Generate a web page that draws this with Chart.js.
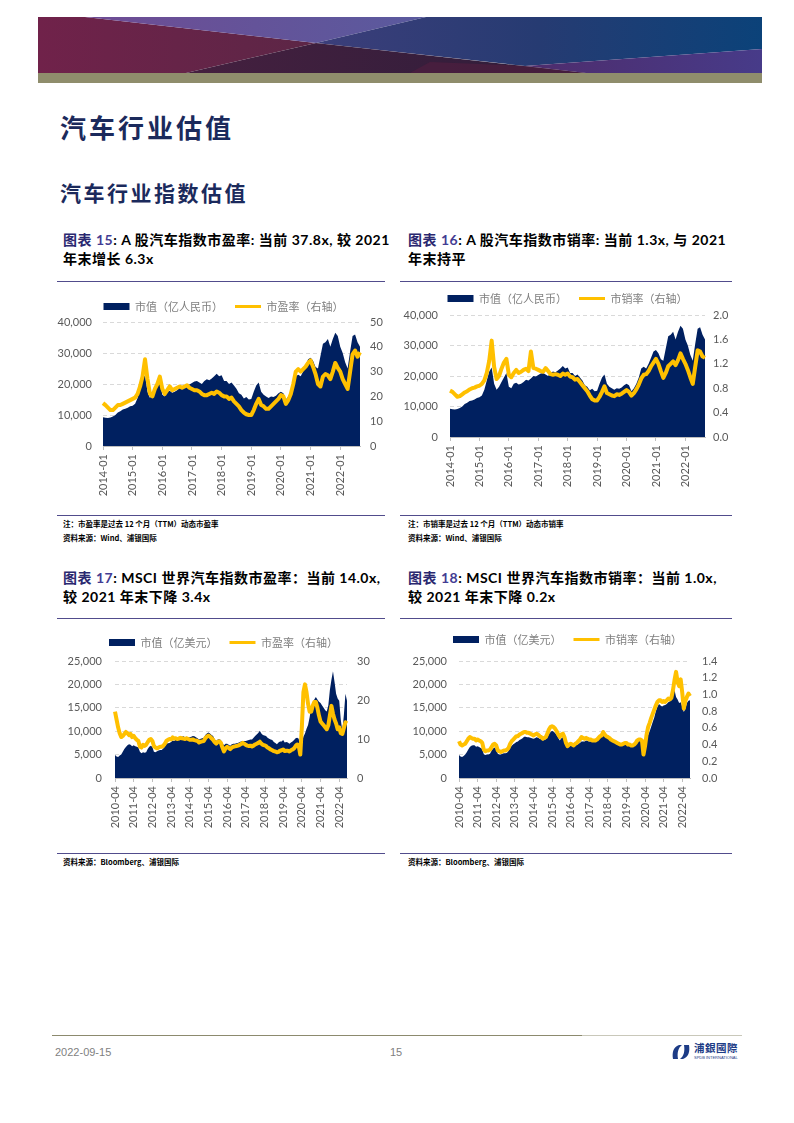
<!DOCTYPE html>
<html lang="zh-CN">
<head>
<meta charset="utf-8">
<title>汽车行业估值</title>
<script src="https://cdn.jsdelivr.net/npm/chart.js@4.4.1/dist/chart.umd.min.js"></script>
<style>
  body { margin: 0; background: #fff; }
  #page { position: relative; width: 794px; height: 1123px; overflow: hidden; font-family: Lato, "Noto Sans CJK SC", sans-serif; }
  .abs { position: absolute; }
  .h1 { left: 60px; top: 110px; font-family: "Noto Sans CJK SC"; font-size: 26px; line-height: 34px; font-weight: 700; letter-spacing: 3px; color: #1B2A5C; }
  .h2 { left: 60px; top: 178px; font-family: "Noto Sans CJK SC"; font-size: 21px; line-height: 28px; font-weight: 700; letter-spacing: 2.5px; color: #1B2A5C; }
  .cap { font-size: 14px; line-height: 19px; font-weight: 700; letter-spacing: 0.5px; color: #000; white-space: nowrap; }
  .cap .fig { color: #2A2870; }
  .cap .num { color: #433C93; }
  .rule { height: 1px; background: #514C8C; }
  .note { font-family: "Noto Sans CJK SC"; font-size: 7.5px; line-height: 10px; font-weight: 700; color: #000; white-space: nowrap; }
  .foot { font-family: "Liberation Sans"; font-size: 11px; color: #7F7F7F; }
  canvas { position: absolute; }
</style>
</head>
<body>
<div id="page">

  <!-- banner -->
  <svg class="abs" style="left:0;top:0" width="794" height="90">
    <defs>
      <linearGradient id="gMaroon" gradientUnits="userSpaceOnUse" x1="38" y1="0" x2="316" y2="0">
        <stop offset="0" stop-color="#70224A"/><stop offset="1" stop-color="#5C2646"/>
      </linearGradient>
      <linearGradient id="gLav" gradientUnits="userSpaceOnUse" x1="85" y1="0" x2="426" y2="0">
        <stop offset="0" stop-color="#6E4C94"/><stop offset="1" stop-color="#5A5A9E"/>
      </linearGradient>
      <linearGradient id="gBlue" gradientUnits="userSpaceOnUse" x1="316" y1="0" x2="762" y2="0">
        <stop offset="0" stop-color="#3C3E7A"/><stop offset="0.5" stop-color="#263B72"/><stop offset="1" stop-color="#0B4279"/>
      </linearGradient>
      <linearGradient id="gDark" gradientUnits="userSpaceOnUse" x1="186" y1="0" x2="586" y2="0">
        <stop offset="0" stop-color="#45203F"/><stop offset="1" stop-color="#2E1D3A"/>
      </linearGradient>
      <linearGradient id="gPurple" gradientUnits="userSpaceOnUse" x1="525" y1="0" x2="762" y2="0">
        <stop offset="0" stop-color="#4E2C6C"/><stop offset="1" stop-color="#473B89"/>
      </linearGradient>
    </defs>
    <polygon points="38,17 85,17 316,43 186,73 38,73" fill="url(#gMaroon)"/>
    <polygon points="85,17 426,17 316,43" fill="url(#gLav)"/>
    <polygon points="426,17 762,17 762,49 525,66 316,43" fill="url(#gBlue)"/>
    <polygon points="316,43 586,73 186,73" fill="url(#gDark)"/>
    <polygon points="525,66 762,49 762,73 586,73" fill="url(#gPurple)"/>
    <polygon points="430,62 525,66 586,73 410,73" fill="#4F1E3E" opacity="0.7"/>
    <rect x="38" y="73" width="724" height="10" fill="#8F8D6C"/>
  </svg>

  <div class="abs h1">汽车行业估值</div>
  <div class="abs h2">汽车行业指数估值</div>

  <!-- captions -->
  <div class="abs cap" style="left:63px;top:230px"><span class="fig">图表</span> <span class="num">15</span>: A 股汽车指数市盈率: 当前 37.8x, 较 2021<br>年末增长 6.3x</div>
  <div class="abs cap" style="left:408px;top:230px"><span class="fig">图表</span> <span class="num">16</span>: A 股汽车指数市销率: 当前 1.3x, 与 2021<br>年末持平</div>
  <div class="abs cap" style="left:63px;top:568px"><span class="fig">图表</span> <span class="num">17</span>: MSCI 世界汽车指数市盈率：当前 14.0x,<br>较 2021 年末下降 3.4x</div>
  <div class="abs cap" style="left:408px;top:568px"><span class="fig">图表</span> <span class="num">18</span>: MSCI 世界汽车指数市销率：当前 1.0x,<br>较 2021 年末下降 0.2x</div>

  <div class="abs rule" style="left:57px;top:281px;width:328px"></div>
  <div class="abs rule" style="left:400px;top:281px;width:332px"></div>
  <div class="abs rule" style="left:57px;top:618px;width:328px"></div>
  <div class="abs rule" style="left:400px;top:618px;width:332px"></div>

  <canvas id="c15" width="333" height="217" style="left:57px;top:289px"></canvas>
  <canvas id="c16" width="335" height="216" style="left:400px;top:281px"></canvas>
  <canvas id="c17" width="333" height="213" style="left:57px;top:625px"></canvas>
  <canvas id="c18" width="335" height="216" style="left:400px;top:622px"></canvas>

  <!-- notes -->
  <div class="abs rule" style="left:57px;top:515px;width:328px"></div>
  <div class="abs rule" style="left:400px;top:515px;width:332px"></div>
  <div class="abs note" style="left:63px;top:519px">注：市盈率是过去 12 个月（TTM）动态市盈率</div>
  <div class="abs note" style="left:63px;top:533px">资料来源：Wind、浦银国际</div>
  <div class="abs note" style="left:408px;top:519px">注：市销率是过去 12 个月（TTM）动态市销率</div>
  <div class="abs note" style="left:408px;top:533px">资料来源：Wind、浦银国际</div>

  <div class="abs rule" style="left:57px;top:853px;width:328px"></div>
  <div class="abs rule" style="left:400px;top:853px;width:332px"></div>
  <div class="abs note" style="left:63px;top:857px">资料来源：Bloomberg、浦银国际</div>
  <div class="abs note" style="left:408px;top:857px">资料来源：Bloomberg、浦银国际</div>

  <!-- footer -->
  <div class="abs" style="left:52px;top:1035px;width:530px;height:1px;background:#8C8A6E"></div>
  <div class="abs" style="left:582px;top:1035px;width:160px;height:1px;background:#C9C8BA"></div>
  <div class="abs foot" style="left:55px;top:1046px">2022-09-15</div>
  <div class="abs foot" style="left:390px;top:1046px">15</div>
  <svg class="abs" style="left:671px;top:1043px" width="20" height="18" viewBox="0 0 20 18">
    <path d="M2 16 C1 10 2 4 8 2 L11 2 C7 5 6 10 7 16 Z" fill="#1D3C86"/>
    <path d="M18 2 C19 8 18 14 12 16 L9 16 C13 13 14 8 13 2 Z" fill="#1D3C86"/>
  </svg>
  <div class="abs" style="left:694px;top:1042px;font-family:'Noto Sans CJK TC';font-size:10.5px;line-height:12px;font-weight:700;color:#1D3C86;letter-spacing:0.5px">浦銀國際</div>
  <div class="abs" style="left:694px;top:1055px;font-family:'Liberation Sans';font-size:4px;line-height:5px;color:#1D3C86">SPDB INTERNATIONAL</div>
</div>

<script>
// month categories for the x axes
function monthRange(y0, m0, y1, m1) {
    var out = [];
    for (var y = y0; y <= y1; y++) {
        for (var m = (y === y0 ? m0 : 1); m <= (y === y1 ? m1 : 12); m++) {
            out.push(y + '-' + (m < 10 ? '0' + m : m));
        }
    }
    return out;
}

var monthsA = monthRange(2014, 1, 2022, 9);
var monthsW = monthRange(2010, 4, 2022, 9);

// labels printed under the x axes
var ticksA = ['2014-01', '2015-01', '2016-01', '2017-01', '2018-01', '2019-01', '2020-01', '2021-01', '2022-01'];
var ticksW = ['2010-04', '2011-04', '2012-04', '2013-04', '2014-04', '2015-04', '2016-04',
              '2017-04', '2018-04', '2019-04', '2020-04', '2021-04', '2022-04'];

// A股汽车指数 市值（亿人民币）, monthly 2014-01 .. 2022-09
var capA = [
    9300, 9100, 9000, 9200, 9500, 10000, 10800, 11200, 11800, 12000, 12300, 12800,
    13000, 13600, 15500, 18500, 21500, 22800, 17500, 15500, 16500, 18000, 19500, 21000,
    16500, 16000, 17500, 17800, 17200, 17500, 18000, 18800, 18500, 19200, 20000, 19800,
    20300, 20800, 21000, 20500, 20000, 21000, 21500, 21200, 21800, 22500, 23300, 22500,
    22800, 21000, 21000, 20000, 20500, 19500, 18500, 17000, 16500, 15300, 15800, 15000,
    15200, 17500, 19500, 20500, 17500, 16500, 16000, 15500, 16000, 15800, 16200, 17000,
    17500, 17000, 15000, 16000, 17500, 19500, 22500, 23000, 22500, 24000, 26000, 28000,
    28500, 27500, 25500, 25000, 29000, 33000, 33500, 34500, 32000, 34500, 36500, 35500,
    32000, 30000, 27000, 25000, 30500, 35500, 36000, 33500, 32000
];

// A股汽车指数 市盈率
var peA = [
    17.3, 16.5, 15.5, 14.5, 14.5, 15.5, 16.5, 16.5, 17, 17.5, 18, 18.5,
    19, 19.5, 21, 24, 28, 35, 27, 21, 20, 23, 25, 28,
    23, 21, 22.5, 24, 22.5, 23, 23.5, 24, 23.5, 24, 24.5, 23.5,
    23, 22.5, 22.5, 22, 21, 20.5, 20.5, 21, 21.5, 21, 22, 21.5,
    20.5, 20, 20, 19, 19.5, 18, 17, 16, 14.5, 13.5, 12.8, 12.5,
    12.5, 14.5, 17, 19, 16.5, 16, 15, 15, 16, 17, 18, 19,
    20.5, 20, 17, 18.5, 21, 25, 30, 31, 30, 31, 32, 33.5,
    34.5, 32, 29, 25, 24, 28, 29, 28.5, 27, 30, 33.5, 31.5,
    30, 27, 25, 23, 30, 37, 38.5, 36, 37.8
];

// A股汽车指数 市销率
var psA = [
    0.76, 0.74, 0.70, 0.66, 0.67, 0.70, 0.73, 0.75, 0.78, 0.80, 0.81, 0.83,
    0.84, 0.87, 0.93, 1.05, 1.25, 1.58, 1.15, 0.95, 1.00, 1.12, 1.22, 1.28,
    1.02, 0.98, 1.05, 1.10, 1.05, 1.07, 1.10, 1.12, 1.08, 1.40, 1.13, 1.12,
    1.10, 1.08, 1.07, 1.13, 1.08, 1.03, 1.02, 1.03, 1.02, 1.00, 1.04, 1.02,
    1.04, 0.99, 0.98, 0.94, 0.95, 0.90, 0.85, 0.80, 0.75, 0.68, 0.62, 0.60,
    0.60, 0.66, 0.74, 0.83, 0.72, 0.70, 0.68, 0.67, 0.70, 0.69, 0.71, 0.74,
    0.77, 0.74, 0.68, 0.72, 0.78, 0.86, 0.96, 1.02, 1.03, 1.08, 1.16, 1.22,
    1.28, 1.20, 1.08, 0.97, 1.05, 1.16, 1.20, 1.24, 1.18, 1.26, 1.37, 1.28,
    1.20, 1.10, 0.98, 0.87, 1.15, 1.42, 1.40, 1.32, 1.30
];

// MSCI世界汽车指数 市值（亿美元）, chart 17, monthly 2010-04 .. 2022-09
var capW1 = [
    4900, 4600, 4500, 4800, 5000, 5600, 6200, 6600, 7000,
    7200, 7100, 6800, 7000, 6800, 6700, 6500, 5600, 5300, 5500, 5400, 5500,
    6200, 6700, 6900, 6600, 5600, 5500, 5700, 5900, 6000, 6000, 6300, 6700,
    7300, 7400, 7500, 7700, 8000, 7900, 8200, 8300, 8600, 8800, 8800, 8900,
    8700, 8800, 8700, 8700, 8800, 9000, 8900, 8700, 8500, 8200, 8400, 8500,
    8600, 9200, 9500, 9700, 9500, 9200, 9000, 8300, 7900, 8200, 8300, 8100,
    7400, 7000, 7300, 7300, 7100, 6900, 7200, 7300, 7300, 7400, 7500, 7700,
    7800, 7900, 7900, 7900, 8000, 8100, 8200, 8200, 8600, 9000, 9300, 9600,
    10100, 9500, 9200, 9100, 9000, 8600, 8400, 8200, 8100, 7700, 7500, 7200,
    7600, 7800, 7800, 8100, 7600, 7700, 7600, 7300, 7600, 7800, 8100, 8500,
    8600, 8400, 6000, 7500, 8800, 9500, 10500, 11300, 13000, 15000, 16000, 16800,
    17300, 16800, 16300, 16000, 15500, 15000, 14500, 14200, 15500, 18800, 21000, 22800,
    20500, 18000, 17000, 16500, 12500, 10000, 13500, 18000, 16500
];

// MSCI世界汽车指数 市盈率
var peW = [
    17, 15, 13, 11.5, 10.5, 10.8, 11.3, 11.8, 11.5,
    11, 11.3, 10.5, 10.8, 10.2, 9.8, 9.5, 8, 7.8, 8.5, 8.2, 8.5,
    9.2, 9.8, 10, 9.5, 8.2, 7.8, 7.6, 7.8, 8.0, 8.0, 8.3, 8.8,
    9.5, 9.8, 10, 9.9, 10.4, 10.1, 10.2, 10, 10.1, 10.3, 10.2, 10.1,
    10, 10.2, 10, 9.8, 9.8, 9.9, 9.7, 9.6, 9.5, 9.1, 9.3, 9.4,
    9.5, 10.2, 10.6, 10.9, 10.6, 10.2, 9.8, 9.2, 8.8, 9.3, 9.4, 9.0,
    7.8, 6.8, 7.6, 8.0, 7.7, 7.4, 7.8, 8.0, 8.1, 8.2, 8.3, 8.5,
    8.7, 9.0, 8.8, 8.5, 8.3, 8.2, 8.3, 8.1, 8.3, 8.6, 8.8, 9.0,
    9.3, 8.8, 8.5, 8.4, 8.2, 7.8, 7.6, 7.3, 7.1, 6.9, 6.8, 6.6,
    6.7, 7.0, 7.1, 7.3, 6.9, 7.0, 7.0, 6.8, 7.1, 7.3, 7.6, 8.2,
    8.6, 8.3, 6.0, 13, 22, 24, 22, 19, 17, 17, 18.5, 19.5,
    19.5, 18, 16, 14.5, 14, 13.5, 13, 12.5, 13.5, 16, 18.5, 16.5,
    15, 14, 12.5, 13, 11.5, 11.3, 12.8, 14.3, 14
];

// MSCI世界汽车指数 市值（亿美元）, chart 18
var capW2 = [
    4900, 4600, 4500, 4700, 5000, 5500, 6100, 6600, 6900,
    7000, 7000, 6700, 6800, 6600, 6400, 6200, 5100, 4900, 5000, 5000, 5200,
    5800, 6300, 6500, 6200, 5200, 5000, 5000, 5200, 5300, 5300, 5400, 5800,
    6500, 6900, 7200, 7400, 7700, 7800, 8100, 8300, 8500, 8800, 8800, 8700,
    8700, 8600, 8500, 8400, 8500, 8700, 8600, 8400, 8300, 8000, 8100, 8300,
    8700, 9400, 9800, 10100, 9900, 9600, 9200, 8600, 8000, 8500, 8700, 8000,
    7000, 6500, 6800, 7000, 6800, 6600, 6900, 7100, 7300, 7500, 7800, 7800,
    7800, 8000, 7900, 7800, 7800, 7700, 7700, 7800, 8000, 8400, 8900, 9300,
    10200, 9700, 9300, 9100, 8900, 8500, 8300, 8100, 7900, 7600, 7400, 7100,
    7200, 7500, 7600, 7600, 7300, 7300, 7200, 7100, 7300, 7600, 8000, 8300,
    8500, 8300, 4800, 6200, 8000, 9200, 10000, 11000, 12000, 13000, 14300, 15200,
    15800, 15500, 15300, 15500, 15600, 15800, 16200, 16400, 16600, 17600, 18800, 17300,
    16800, 16000, 16200, 15200, 14100, 14800, 16000, 16500, 16600
];

// MSCI世界汽车指数 市销率
var psW = [
    0.44, 0.40, 0.39, 0.40, 0.41, 0.44, 0.47, 0.49, 0.48,
    0.47, 0.47, 0.45, 0.46, 0.45, 0.44, 0.42, 0.34, 0.32, 0.33, 0.33, 0.34,
    0.37, 0.40, 0.41, 0.39, 0.33, 0.32, 0.31, 0.32, 0.33, 0.33, 0.34, 0.36,
    0.41, 0.44, 0.46, 0.48, 0.50, 0.50, 0.52, 0.53, 0.54, 0.55, 0.55, 0.54,
    0.54, 0.53, 0.52, 0.51, 0.52, 0.53, 0.52, 0.50, 0.49, 0.47, 0.48, 0.49,
    0.53, 0.58, 0.61, 0.62, 0.61, 0.59, 0.56, 0.52, 0.49, 0.52, 0.53, 0.49,
    0.42, 0.38, 0.40, 0.41, 0.40, 0.39, 0.41, 0.42, 0.44, 0.46, 0.49, 0.48,
    0.47, 0.48, 0.47, 0.46, 0.46, 0.45, 0.45, 0.45, 0.46, 0.48, 0.50, 0.51,
    0.55, 0.52, 0.50, 0.49, 0.48, 0.46, 0.45, 0.44, 0.43, 0.42, 0.41, 0.40,
    0.40, 0.41, 0.42, 0.42, 0.40, 0.40, 0.39, 0.39, 0.40, 0.42, 0.45, 0.46,
    0.46, 0.45, 0.28, 0.38, 0.52, 0.61, 0.66, 0.72, 0.77, 0.82, 0.87, 0.91,
    0.93, 0.93, 0.91, 0.92, 0.91, 0.93, 0.95, 0.94, 0.96, 1.05, 1.17, 1.27,
    1.15, 1.10, 1.18, 1.02, 0.83, 0.92, 0.97, 1.01, 0.98
];

var navy = '#002060';
var gold = '#FFC000';
var tickGrey = '#595959';
var tickFont = { family: 'Lato', size: 11 };

function drawChart(id, o) {
    var ctx = document.getElementById(id).getContext('2d');
    return new Chart(ctx, {
        type: 'line',
        data: {
            labels: o.labels,
            datasets: [{
                label: o.barLabel,
                data: o.bars,
                yAxisID: 'y',
                order: 2,
                fill: 'origin',
                backgroundColor: navy,
                borderWidth: 0,
                pointRadius: 0,
                pointStyle: 'rect',
                pointBackgroundColor: navy,
                pointBorderWidth: 0
            }, {
                label: o.lineLabel,
                data: o.line,
                yAxisID: 'y1',
                order: 1,
                fill: false,
                borderColor: gold,
                borderWidth: 4,
                borderJoinStyle: 'round',
                pointRadius: 0,
                pointStyle: 'line',
                pointBorderColor: gold,
                pointBorderWidth: 3
            }]
        },
        options: {
            responsive: false,
            animation: false,
            layout: { padding: 0 },
            plugins: {
                legend: {
                    labels: {
                        usePointStyle: true,
                        pointStyleWidth: 26,
                        boxHeight: 7,
                        padding: 12,
                        color: '#7F7F7F',
                        font: { family: '"Noto Sans CJK SC"', size: 11 },
                        sort: function (a, b) { return a.datasetIndex - b.datasetIndex; }
                    }
                },
                tooltip: { enabled: false }
            },
            scales: {
                x: {
                    grid: {
                        drawOnChartArea: false,
                        tickLength: 4,
                        color: function (c) {
                            return o.ticks.indexOf(o.labels[c.index]) >= 0 ? '#BFBFBF' : 'rgba(0,0,0,0)';
                        }
                    },
                    border: { color: '#BFBFBF' },
                    ticks: {
                        autoSkip: false,
                        minRotation: 90,
                        maxRotation: 90,
                        padding: 4,
                        color: tickGrey,
                        font: tickFont,
                        callback: function (v, i) {
                            var l = o.labels[i];
                            return o.ticks.indexOf(l) >= 0 ? l : '';
                        }
                    },
                    afterFit: function (s) { s.height = 60; }
                },
                y: {
                    position: 'left',
                    min: 0,
                    max: o.leftMax,
                    ticks: { stepSize: o.leftStep, padding: o.leftPad, color: tickGrey, font: tickFont },
                    grid: { color: '#D9D9D9', drawTicks: false },
                    border: { display: false, dash: [4, 3] },
                    afterFit: function (s) { s.width = o.leftW; }
                },
                y1: {
                    position: 'right',
                    min: 0,
                    max: o.rightMax,
                    ticks: {
                        stepSize: o.rightStep,
                        padding: o.rightPad,
                        color: tickGrey,
                        font: tickFont,
                        callback: function (v) { return o.digits ? v.toFixed(o.digits) : v; }
                    },
                    grid: { drawOnChartArea: false, drawTicks: false },
                    border: { display: false },
                    afterFit: function (s) { s.width = o.rightW; }
                }
            }
        },
        plugins: [{
            // fixed legend band height so the plot area lines up
            id: 'legendBand',
            beforeInit: function (chart) {
                if (!chart.legend) return;
                var fit = chart.legend.fit;
                chart.legend.fit = function () {
                    fit.call(this);
                    this.height = o.legendH;
                };
            }
        }]
    });
}

drawChart('c15', {
    labels: monthsA, ticks: ticksA,
    bars: capA, barLabel: '市值（亿人民币）',
    line: peA, lineLabel: '市盈率（右轴）',
    leftMax: 40000, leftStep: 10000, leftW: 46, leftPad: 11,
    rightMax: 50, rightStep: 10, rightW: 30, rightPad: 10, digits: 0,
    legendH: 33
});

drawChart('c16', {
    labels: monthsA, ticks: ticksA,
    bars: capA, barLabel: '市值（亿人民币）',
    line: psA, lineLabel: '市销率（右轴）',
    leftMax: 40000, leftStep: 10000, leftW: 50, leftPad: 12,
    rightMax: 2, rightStep: 0.4, rightW: 30, rightPad: 8, digits: 1,
    legendH: 34
});

drawChart('c17', {
    labels: monthsW, ticks: ticksW,
    bars: capW1, barLabel: '市值（亿美元）',
    line: peW, lineLabel: '市盈率（右轴）',
    leftMax: 25000, leftStep: 5000, leftW: 58, leftPad: 13,
    rightMax: 30, rightStep: 10, rightW: 43, rightPad: 10, digits: 0,
    legendH: 36
});

drawChart('c18', {
    labels: monthsW, ticks: ticksW,
    bars: capW2, barLabel: '市值（亿美元）',
    line: psW, lineLabel: '市销率（右轴）',
    leftMax: 25000, leftStep: 5000, leftW: 59, leftPad: 12,
    rightMax: 1.4, rightStep: 0.2, rightW: 45, rightPad: 12, digits: 1,
    legendH: 39
});
</script>
</body>
</html>
